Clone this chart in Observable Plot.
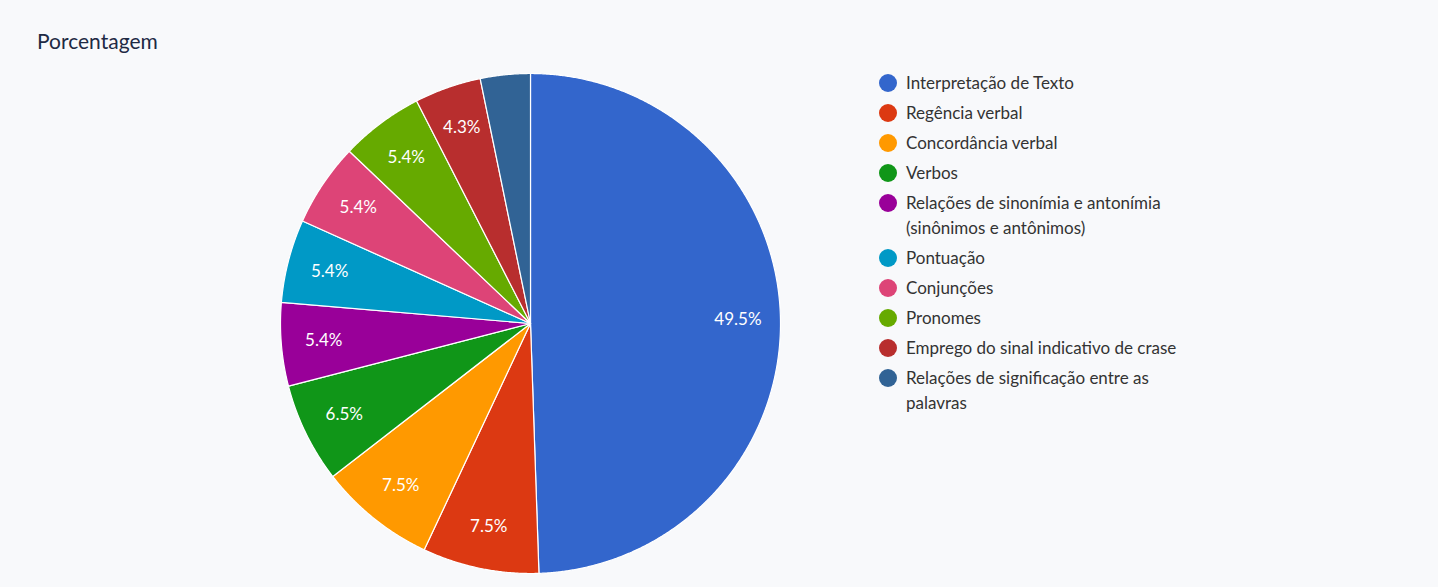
<!DOCTYPE html>
<html><head><meta charset="utf-8">
<script src="https://cdn.jsdelivr.net/npm/d3@7"></script>
<script src="https://cdn.jsdelivr.net/npm/@observablehq/plot@0.6"></script>
<style>
body{margin:0;background:#f8f9fb;font-family:Lato,sans-serif;}
#wrap{position:relative;width:1438px;height:587px;overflow:hidden;}
#wrap svg{position:absolute;left:0;top:0;}
#title{position:absolute;left:37px;top:28px;font-size:21px;color:#1e2a44;}
#legend{position:absolute;left:879px;top:70px;width:310px;}
.item{display:flex;align-items:flex-start;margin-bottom:5px;font-size:17px;line-height:25px;color:#333;}
.sw{width:18px;height:18px;border-radius:50%;margin-top:3.5px;margin-right:9px;flex:none;}
</style></head>
<body>
<div id="wrap"><div id="title">Porcentagem</div><div id="legend"></div></div>
<script>
const categories = ["Interpretação de Texto","Regência verbal","Concordância verbal","Verbos","Relações de sinonímia e antonímia (sinônimos e antônimos)","Pontuação","Conjunções","Pronomes","Emprego do sinal indicativo de crase","Relações de significação entre as palavras"];
const counts = [46,7,7,6,5,5,5,5,4,3];
const colors = ["#3366cc","#dc3912","#ff9900","#109618","#990099","#0099c6","#dd4477","#66aa00","#b82e2e","#316395"];
const title = "Porcentagem";

const total = d3.sum(counts);
const arcs = d3.pie().sort(null).value(d => d)(counts);
const slices = [];
arcs.forEach((a, i) => {
  const cat = categories[i];
  slices.push({cat, x: 0, y: 0});
  const n = Math.max(2, Math.ceil((a.endAngle - a.startAngle) / 0.005));
  for (let k = 0; k <= n; k++) {
    const t = a.startAngle + (a.endAngle - a.startAngle) * k / n;
    slices.push({cat, x: Math.sin(t), y: Math.cos(t)});
  }
  slices.push({cat, x: 0, y: 0});
});
const labels = arcs.map((a, i) => {
  const m = (a.startAngle + a.endAngle) / 2;
  return {cat: categories[i], x: 0.83 * Math.sin(m), y: 0.83 * Math.cos(m), pct: counts[i] / total * 100};
}).filter(d => d.pct >= 4);

const chart = Plot.plot({
  width: 1438, height: 587,
  marginLeft: 280, marginRight: 658, marginTop: 73, marginBottom: 14,
  style: {background: "transparent", fontFamily: "Lato, sans-serif"},
  x: {domain: [-1, 1], axis: null},
  y: {domain: [-1, 1], axis: null},
  color: {domain: categories, range: colors},
  marks: [
    Plot.line(slices, {x: "x", y: "y", z: "cat", fill: "cat", stroke: "white", strokeWidth: 1.2, curve: "linear"}),
    Plot.text(labels, {x: "x", y: "y", text: d => d.pct.toFixed(1) + "%", fill: "white", fontSize: 17})
  ]
});
document.getElementById("wrap").prepend(chart);

const leg = document.getElementById("legend");
categories.forEach((c, i) => {
  const it = document.createElement("div"); it.className = "item";
  const sw = document.createElement("span"); sw.className = "sw"; sw.style.background = colors[i];
  const tx = document.createElement("span"); tx.textContent = c;
  it.append(sw, tx); leg.append(it);
});
</script>
</body></html>
